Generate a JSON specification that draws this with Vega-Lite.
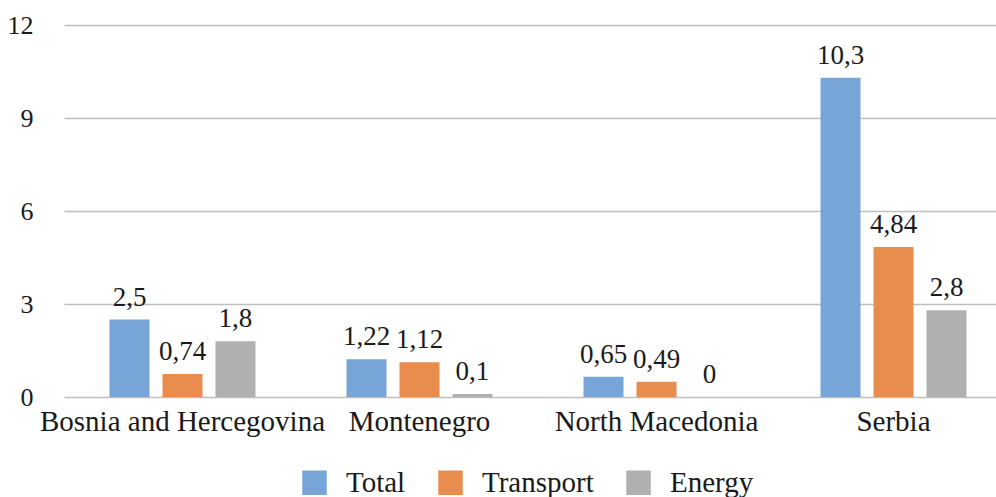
{
  "$schema": "https://vega.github.io/schema/vega-lite/v6.json",
  "width": 932,
  "height": 372,
  "autosize": {"type": "none"},
  "padding": {"left": 64, "top": 25, "right": 0, "bottom": 100},
  "data": {
    "values": [
      {"country": "Bosnia and Hercegovina", "series": "Total", "value": 2.5},
      {"country": "Bosnia and Hercegovina", "series": "Transport", "value": 0.74},
      {"country": "Bosnia and Hercegovina", "series": "Energy", "value": 1.8},
      {"country": "Montenegro", "series": "Total", "value": 1.22},
      {"country": "Montenegro", "series": "Transport", "value": 1.12},
      {"country": "Montenegro", "series": "Energy", "value": 0.1},
      {"country": "North Macedonia", "series": "Total", "value": 0.65},
      {"country": "North Macedonia", "series": "Transport", "value": 0.49},
      {"country": "North Macedonia", "series": "Energy", "value": 0},
      {"country": "Serbia", "series": "Total", "value": 10.3},
      {"country": "Serbia", "series": "Transport", "value": 4.84},
      {"country": "Serbia", "series": "Energy", "value": 2.8}
    ]
  },
  "encoding": {
    "x": {
      "field": "country",
      "type": "nominal",
      "sort": ["Bosnia and Hercegovina", "Montenegro", "North Macedonia", "Serbia"],
      "scale": {"range": [0, 948], "paddingInner": 0, "paddingOuter": 0},
      "axis": {"title": null, "labelAngle": 0, "ticks": false, "domain": false, "labelPadding": 10, "grid": false, "labelLimit": 0, "labelFontSize": 29}
    },
    "xOffset": {
      "field": "series",
      "type": "nominal",
      "sort": ["Total", "Transport", "Energy"],
      "scale": {"paddingInner": 0.2453, "paddingOuter": 0.8585}
    },
    "y": {
      "field": "value",
      "type": "quantitative",
      "scale": {"domain": [0, 12]},
      "axis": {"values": [0, 3, 6, 9, 12], "title": null, "ticks": false, "domain": false, "labelPadding": 31, "labelFontSize": 26}
    }
  },
  "layer": [
    {
      "mark": {"type": "bar"},
      "encoding": {
        "color": {
          "field": "series",
          "type": "nominal",
          "sort": ["Total", "Transport", "Energy"],
          "scale": {"domain": ["Total", "Transport", "Energy"], "range": ["#77A5D8", "#E88D4E", "#B2AFB1"]},
          "legend": {
            "title": null,
            "orient": "none",
            "legendX": 236,
            "legendY": 443,
            "direction": "horizontal",
            "symbolType": "square",
            "symbolSize": 600,
            "symbolStrokeWidth": 0,
            "labelFontSize": 29,
            "labelOffset": 17,
            "columnPadding": 30
          }
        }
      }
    },
    {
      "mark": {"type": "text", "baseline": "alphabetic", "dy": -14, "fontSize": 27, "color": "#1a1a1a", "font": "Liberation Serif"},
      "encoding": {
        "text": {"field": "value", "type": "quantitative", "format": ".3~g"}
      }
    }
  ],
  "config": {
    "locale": {"number": {"decimal": ",", "thousands": ".", "grouping": [3], "currency": ["", " €"]}},
    "view": {"stroke": null},
    "font": "Liberation Serif",
    "axis": {
      "labelFont": "Liberation Serif",
      "labelColor": "#1a1a1a",
      "gridColor": "#BFBFBF",
      "gridWidth": 1.5
    },
    "legend": {"labelFont": "Liberation Serif", "labelColor": "#1a1a1a"}
  }
}
